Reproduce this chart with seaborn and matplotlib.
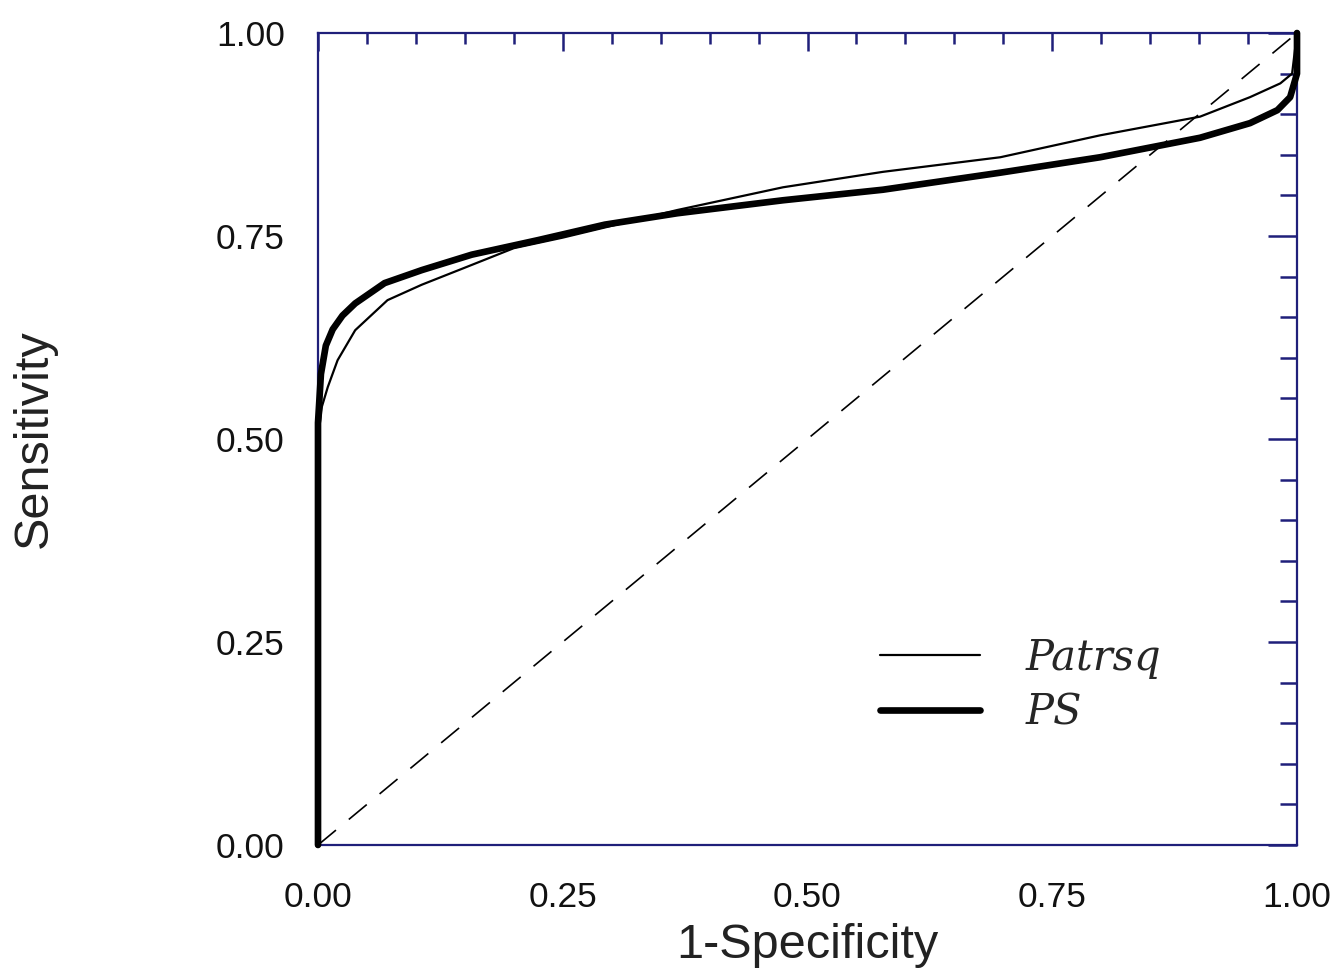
import matplotlib
matplotlib.use("Agg")
import matplotlib.pyplot as plt
from matplotlib.ticker import MultipleLocator, FormatStrFormatter
import pandas as pd
import seaborn as sns

# ROC curves
ps_x = [0.0, 0.0, 0.003, 0.008, 0.015, 0.025, 0.038, 0.068, 0.106, 0.157, 0.225,
        0.293, 0.367, 0.475, 0.577, 0.697, 0.799, 0.901, 0.952, 0.98, 0.993, 1.0, 1.0]
ps_y = [0.0, 0.52, 0.58, 0.615, 0.635, 0.652, 0.667, 0.692, 0.708, 0.727, 0.745,
        0.764, 0.778, 0.794, 0.807, 0.828, 0.847, 0.871, 0.889, 0.905, 0.921, 0.95, 1.0]

patrsq_x = [0.0, 0.0, 0.004, 0.01, 0.02, 0.038, 0.071, 0.106, 0.15, 0.2, 0.25,
            0.367, 0.475, 0.577, 0.697, 0.799, 0.901, 0.952, 0.983, 0.995, 1.0]
patrsq_y = [0.0, 0.50, 0.54, 0.564, 0.597, 0.634, 0.671, 0.69, 0.711, 0.735, 0.748,
            0.782, 0.81, 0.829, 0.847, 0.874, 0.897, 0.921, 0.938, 0.95, 1.0]

diag_x = [0.0, 1.0]
diag_y = [0.0, 1.0]

tick_values = [0.0, 0.25, 0.5, 0.75, 1.0]

sns.set_theme(style="white")
plt.rcParams['font.family'] = ['Liberation Sans', 'DejaVu Sans']

NAVY = '#1f1f7a'

fig = plt.figure(figsize=(13.32, 9.76), dpi=100)
ax = fig.add_axes([318 / 1332, 1 - 845 / 976, 979 / 1332, 812 / 976])

df_ps = pd.DataFrame({'x': ps_x, 'y': ps_y})
df_pat = pd.DataFrame({'x': patrsq_x, 'y': patrsq_y})

sns.lineplot(data=df_pat, x='x', y='y', ax=ax, color='black', linewidth=1.6,
             sort=False, estimator=None, label='Patrsq', clip_on=False, zorder=4)
sns.lineplot(data=df_ps, x='x', y='y', ax=ax, color='black', linewidth=4.8,
             sort=False, estimator=None, label='PS', clip_on=False, zorder=5)
ax.plot(diag_x, diag_y, color='black', linewidth=1.2, dashes=(14, 10), zorder=3)

ax.set_xlim(0, 1)
ax.set_ylim(0, 1)
ax.set_xticks(tick_values)
ax.set_yticks(tick_values)
ax.xaxis.set_minor_locator(MultipleLocator(0.05))
ax.yaxis.set_minor_locator(MultipleLocator(0.05))
ax.xaxis.set_major_formatter(FormatStrFormatter('%.2f'))
ax.yaxis.set_major_formatter(FormatStrFormatter('%.2f'))

for s in ax.spines.values():
    s.set_color(NAVY)
    s.set_linewidth(1.6)
    s.set_visible(True)

ax.tick_params(axis='both', which='both', direction='in', top=True, right=True,
               color=NAVY, width=1.8, labelsize=25.5, labelcolor='#111111')
ax.tick_params(axis='x', which='major', length=13, pad=26)
ax.tick_params(axis='x', which='minor', length=8)
ax.tick_params(axis='y', which='major', length=21, pad=24)
ax.tick_params(axis='y', which='minor', length=12)

ax.set_xlabel('1-Specificity', fontsize=35, color='#222222')
ax.set_ylabel('Sensitivity', fontsize=35, color='#222222')
ax.xaxis.set_label_coords(0.5, -0.096)
ax.yaxis.set_label_coords(-0.2666, 0.5)

leg = ax.legend(loc='center', bbox_to_anchor=(0.718, 0.197), frameon=False,
                handlelength=2.4, handletextpad=1.1, labelspacing=0.3,
                prop={'family': 'DejaVu Serif', 'style': 'italic', 'size': 30})

fig.savefig('out.png', dpi=100)
